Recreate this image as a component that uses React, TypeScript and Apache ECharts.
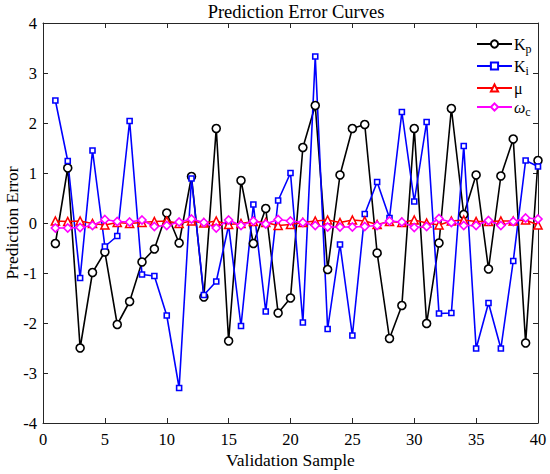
import React, { useEffect, useRef } from "react";
import * as echarts from "echarts";

const samples = [1,2,3,4,5,6,7,8,9,10,11,12,13,14,15,16,17,18,19,20,21,22,23,24,25,26,27,28,29,30,31,32,33,34,35,36,37,38,39,40];
const kp = [-0.41,1.10,-2.50,-0.99,-0.58,-2.03,-1.57,-0.78,-0.52,0.20,-0.40,0.93,-1.48,1.89,-2.36,0.85,-0.41,0.29,-1.80,-1.50,1.51,2.35,-0.93,0.96,1.89,1.97,-0.60,-2.31,-1.65,1.89,-2.01,-0.40,2.29,0.17,0.96,-0.92,0.94,1.68,-2.40,1.25];
const ki = [2.45,1.24,-1.10,1.45,-0.47,-0.26,2.04,-1.03,-1.06,-1.85,-3.30,0.89,-1.44,-1.17,-0.05,-2.06,0.37,-1.77,0.45,1.00,-1.99,3.33,-2.12,-0.43,-2.25,0.18,0.82,0.10,2.22,0.43,2.02,-1.81,-1.80,1.54,-2.51,-1.60,-2.51,-0.76,1.25,1.13];
const mu = [0.04,0.03,0.04,-0.01,-0.04,0.01,-0.01,0.01,0.03,0.04,-0.01,0.04,0.00,0.04,-0.03,-0.01,0.03,0.01,-0.05,-0.03,0.01,0.04,0.06,0.01,0.06,0.04,-0.03,0.03,0.01,0.06,0.00,-0.04,0.04,0.06,0.03,0.03,0.04,0.04,0.06,-0.04];
const wc = [-0.10,-0.10,-0.09,-0.05,0.07,0.03,0.02,0.06,-0.07,-0.05,0.02,0.08,0.01,-0.10,0.06,-0.05,0.04,-0.02,0.07,0.04,0.01,-0.05,-0.08,-0.08,-0.08,-0.07,-0.05,0.04,0.02,-0.09,-0.07,0.09,0.01,-0.05,-0.05,0.05,-0.05,0.03,0.10,0.08];
const xTicks = { min: 0, max: 40, interval: 5 };
const yTicks = { min: -4, max: 4, interval: 1 };

const FONT = "Liberation Serif";

export default function App() {
  const ref = useRef<HTMLDivElement>(null);
  useEffect(() => {
    document.body.style.margin = "0";
    const chart = echarts.init(ref.current!, null, { renderer: "svg" });
    const pair = (ys: number[]) => samples.map((x, i) => [x, ys[i]]);
    const axisLine = { show: true, onZero: false, lineStyle: { color: "#262626", width: 1 } };
    const tick = { show: true, inside: true, length: 5, lineStyle: { color: "#262626" } };
    const mk = (name: string, ys: number[], color: string, symbol: string, size: number) => ({
      name,
      type: "line",
      data: pair(ys),
      symbol,
      symbolSize: size,
      showSymbol: true,
      lineStyle: { color, width: 1.6 },
      itemStyle: { color: "#fff", borderColor: color, borderWidth: 1.6 },
      color,
      z: 2,
    });
    chart.setOption({
      animation: false,
      backgroundColor: "#fff",
      textStyle: { fontFamily: FONT },
      title: {
        text: "Prediction Error Curves",
        left: 296,
        textAlign: "center",
        top: 2,
        padding: 0,
        textStyle: { fontFamily: FONT, fontSize: 18.5, fontWeight: "normal", color: "#000" },
      },
      legend: {
        orient: "vertical",
        left: 476,
        top: 36,
        padding: 0,
        itemWidth: 35,
        itemHeight: 9,
        itemGap: 3,
        data: ["Kp", "Ki", "mu", "wc"],
        formatter: (n: string) => {
          if (n === "Kp") return "K{sub|p}";
          if (n === "Ki") return "K{sub|i}";
          if (n === "mu") return "μ";
          return "{it|ω}{sub|c}";
        },
        textStyle: {
          fontFamily: FONT,
          fontSize: 16,
          color: "#000",
          padding: [0, 0, 0, -3],
          rich: {
            sub: { fontFamily: FONT, fontSize: 12, verticalAlign: "bottom", padding: [10, 0, 0, 0], color: "#000" },
            it: { fontFamily: FONT, fontSize: 16, fontStyle: "italic", color: "#000" },
          },
        },
      },
      grid: { left: 43, right: 12, top: 23, bottom: 51, containLabel: false, outerBoundsMode: "none" },
      xAxis: [
        {
          type: "value",
          ...xTicks,
          name: "Validation Sample",
          nameLocation: "middle",
          nameGap: 28,
          nameMoveOverlap: false,
          nameTextStyle: { fontFamily: FONT, fontSize: 17.5, color: "#000" },
          axisLine,
          axisTick: tick,
          splitLine: { show: false },
          axisLabel: { fontFamily: FONT, fontSize: 16.5, color: "#000", margin: 8 },
        },
        {
          type: "value",
          ...xTicks,
          position: "top",
          axisLine,
          axisTick: tick,
          splitLine: { show: false },
          axisLabel: { show: false },
        },
      ],
      yAxis: [
        {
          type: "value",
          ...yTicks,
          name: "Prediction Error",
          nameLocation: "middle",
          nameGap: 22,
          nameMoveOverlap: false,
          nameTextStyle: { fontFamily: FONT, fontSize: 17.5, color: "#000" },
          axisLine,
          axisTick: tick,
          splitLine: { show: false },
          axisLabel: { fontFamily: FONT, fontSize: 16.5, color: "#000", margin: 6 },
        },
        {
          type: "value",
          ...yTicks,
          position: "right",
          axisLine,
          axisTick: tick,
          splitLine: { show: false },
          axisLabel: { show: false },
        },
      ],
      series: [
        mk("Kp", kp, "#000000", "circle", 8),
        mk("Ki", ki, "#0000ff", "rect", 5),
        mk("mu", mu, "#ff0000", "triangle", 8),
        mk("wc", wc, "#ff00ff", "diamond", 8),
      ],
    });
    return () => chart.dispose();
  }, []);
  return <div ref={ref} style={{ width: 550, height: 474 }} />;
}
